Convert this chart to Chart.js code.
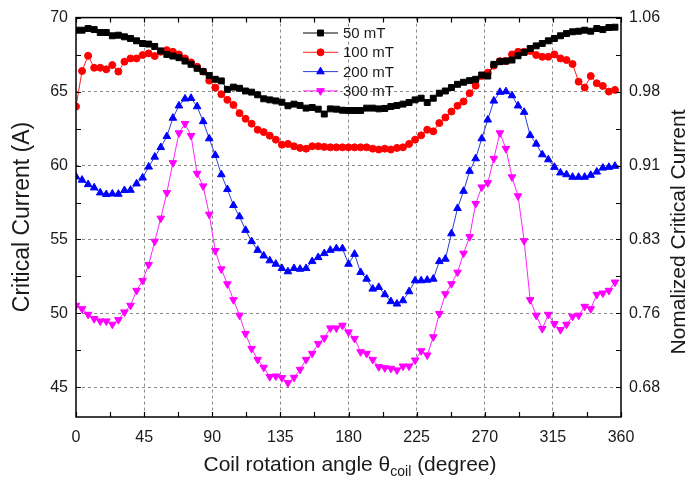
<!DOCTYPE html>
<html><head><meta charset="utf-8">
<script src="https://cdn.jsdelivr.net/npm/chart.js@4/dist/chart.umd.min.js"></script>
<style>html,body{margin:0;padding:0;background:#fff}</style>
</head><body>
<canvas id="c" width="688" height="490"></canvas>
<script>
const angles = [0,4,8,12,16,20,24,28,32,36,40,44,48,52,56,60,64,68,72,76,80,84,88,92,96,100,104,108,112,116,120,124,128,132,136,140,144,148,152,156,160,164,168,172,176,180,184,188,192,196,200,204,208,212,216,220,224,228,232,236,240,244,248,252,256,260,264,268,272,276,280,284,288,292,296,300,304,308,312,316,320,324,328,332,336,340,344,348,352,356];

const ic50 = [69.15,69.15,69.26,69.19,68.99,68.99,68.77,68.81,68.70,68.59,68.43,68.25,68.21,68.05,67.75,67.51,67.40,67.29,67.06,66.84,66.57,66.35,66.08,65.83,65.72,65.15,65.30,65.22,65.04,64.96,64.78,
64.51,64.44,64.37,64.28,64.04,64.15,64.06,63.88,63.92,63.81,63.48,63.83,63.81,63.74,63.72,63.72,63.72,63.88,63.88,63.83,63.86,63.99,64.06,64.15,64.26,64.44,64.55,64.26,64.55,64.89,
65.04,65.27,65.49,65.63,65.74,65.83,66.12,66.05,66.84,67.02,67.06,67.13,67.42,67.65,67.91,68.09,68.25,68.43,68.59,68.77,68.92,69.04,69.08,69.15,69.08,69.26,69.19,69.33,69.35];

const ic100 = [63.99,66.39,67.42,66.61,66.61,66.50,66.79,66.35,67.02,67.24,67.24,67.47,67.58,67.40,67.69,67.80,67.69,67.51,67.24,66.97,66.68,66.35,65.74,65.27,64.82,64.44,64.10,63.54,63.16,62.83,62.42,
62.26,62.02,61.75,61.41,61.46,61.30,61.19,61.14,61.30,61.30,61.26,61.23,61.23,61.23,61.23,61.23,61.23,61.23,61.14,61.08,61.14,61.08,61.19,61.23,61.46,61.75,62.04,62.42,62.31,62.87,
63.25,63.65,64.04,64.33,64.89,65.40,66.05,66.28,66.75,67.06,67.06,67.51,67.69,67.69,67.74,67.47,67.35,67.35,67.51,67.24,67.13,66.86,65.67,65.27,66.05,65.56,65.38,65.00,65.11];

const ic200 = [59.24,59.02,58.72,58.50,58.16,58.05,58.09,58.07,58.32,58.34,58.77,59.17,59.91,60.58,61.23,61.97,63.21,64.04,64.51,64.55,63.99,62.98,61.82,60.70,59.39,58.39,57.31,56.55,55.63,54.87,54.28,
53.90,53.57,53.34,53.05,52.83,53.05,53.00,53.05,53.52,53.79,54.06,54.28,54.39,54.39,53.34,54.01,52.78,52.33,51.66,51.77,51.28,50.81,50.65,50.87,51.48,52.22,52.22,52.26,52.33,53.52,
53.68,55.40,57.11,58.27,59.62,60.47,61.82,63.09,64.37,64.96,65.00,64.73,64.04,63.61,62.04,61.46,60.74,60.40,59.89,59.51,59.39,59.22,59.22,59.22,59.35,59.57,59.84,59.89,59.96];

const ic300 = [50.54,50.31,49.93,49.64,49.48,49.48,49.26,49.57,50.09,50.54,51.55,52.22,53.30,54.87,56.43,58.16,60.18,62.20,62.83,62.02,59.46,58.61,56.70,54.24,53.00,51.99,50.92,49.87,48.63,47.62,46.88,
46.35,45.72,45.76,45.65,45.31,45.67,46.21,46.88,47.29,47.96,48.34,49.01,49.01,49.19,48.74,48.30,47.40,47.29,46.88,46.39,46.32,46.28,46.17,46.43,46.43,46.84,47.47,47.18,48.41,49.98,
51.32,52.00,52.78,54.06,55.18,57.42,58.54,58.83,60.47,62.20,61.14,59.22,57.94,54.91,50.92,49.87,48.97,49.93,49.30,48.90,49.26,49.80,49.87,50.47,50.31,51.28,51.37,51.55,52.11];

const seriesNames = ['50 mT','100 mT','200 mT','300 mT'];
const xTicks = [0,45,90,135,180,225,270,315,360];
const xMinor = [22.5,67.5,112.5,157.5,202.5,247.5,292.5,337.5];
const yTicks = [45,50,55,60,65,70];
const yMinor = [47.5,52.5,57.5,62.5,67.5];
const normRef = 66;

const FONT = '"Liberation Sans", Arial, sans-serif';
const toXY = arr => arr.map((v,i)=>({x:angles[i], y:v}));

const styles = [
  {c:'#000000', line:'#000000', ps:'rect', r:4.2, rot:0},
  {c:'#ff0000', line:'#ff2020', ps:'circle', r:3.5, rot:0},
  {c:'#0000ff', line:'#2a3fd6', ps:'triangle', r:4.4, rot:0},
  {c:'#ff00ff', line:'#ff22ff', ps:'triangle', r:4.4, rot:180}
];
const allData = [ic50, ic100, ic200, ic300];

const datasets = allData.map((arr,k)=>({
  label: seriesNames[k],
  data: toXY(arr),
  borderColor: styles[k].line,
  backgroundColor: styles[k].c,
  borderWidth: 1,
  pointStyle: styles[k].ps,
  pointRadius: styles[k].r,
  pointRotation: styles[k].rot,
  pointBorderWidth: 1,
  pointBorderColor: styles[k].c,
  pointBackgroundColor: styles[k].c,
  tension: 0,
  yAxisID: 'y'
}));

const gridColor = (edgeVals) => (ctx) => edgeVals.includes(ctx.tick && ctx.tick.value) ? 'rgba(0,0,0,0)' : '#8a8a8a';

const decor = {
  id: 'decor',
  afterDraw(chart) {
    const {ctx, chartArea: a, scales} = chart;
    const xs = scales.x, ys = scales.y;
    ctx.save();
    ctx.strokeStyle = '#000';
    ctx.lineWidth = 1.5;
    ctx.strokeRect(a.left, a.top, a.right - a.left, a.bottom - a.top);
    ctx.lineWidth = 1.2;
    const L = 5;
    ctx.beginPath();
    xTicks.concat(xMinor).forEach(v => {
      const px = Math.round(xs.getPixelForValue(v)) + 0.5;
      ctx.moveTo(px, a.bottom); ctx.lineTo(px, a.bottom - L);
      ctx.moveTo(px, a.top); ctx.lineTo(px, a.top + L);
    });
    yTicks.concat(yMinor).forEach(v => {
      const py = Math.round(ys.getPixelForValue(v)) + 0.5;
      ctx.moveTo(a.left, py); ctx.lineTo(a.left + L, py);
      ctx.moveTo(a.right, py); ctx.lineTo(a.right - L, py);
    });
    ctx.stroke();

    // legend
    const lx0 = 303, lx1 = 338, tx = 343, ly0 = 33, dy = 19.3;
    ctx.font = '15px ' + FONT;
    ctx.textBaseline = 'middle';
    ctx.textAlign = 'left';
    chart.data.datasets.forEach((ds, k) => {
      const y = ly0 + k * dy;
      ctx.strokeStyle = ds.borderColor;
      ctx.lineWidth = 1;
      ctx.beginPath(); ctx.moveTo(lx0, y); ctx.lineTo(lx1, y); ctx.stroke();
      ctx.fillStyle = ds.backgroundColor;
      ctx.strokeStyle = ds.pointBorderColor;
      Chart.helpers.drawPoint(ctx, {pointStyle: ds.pointStyle, radius: ds.pointRadius, rotation: ds.pointRotation, borderWidth: 1}, (lx0 + lx1) / 2, y);
      ctx.fillStyle = '#1a1a1a';
      ctx.fillText(ds.label, tx, y + 1);
    });

    // axis titles
    ctx.fillStyle = '#1a1a1a';
    ctx.textAlign = 'center';
    ctx.textBaseline = 'middle';
    ctx.save();
    ctx.font = '23px ' + FONT;
    ctx.translate(23, 217);
    ctx.rotate(-Math.PI / 2);
    ctx.fillText('Critical Current (A)', 0, 0);
    ctx.restore();
    ctx.save();
    ctx.font = '21px ' + FONT;
    ctx.translate(679, 232);
    ctx.rotate(-Math.PI / 2);
    ctx.fillText('Nomalized Critical Current', 0, 0);
    ctx.restore();

    // x title with subscript
    const p1 = 'Coil rotation angle \u03B8', p2 = 'coil', p3 = ' (degree)';
    ctx.font = '21px ' + FONT;
    const w1 = ctx.measureText(p1).width, w3 = ctx.measureText(p3).width;
    ctx.font = '14px ' + FONT;
    const w2 = ctx.measureText(p2).width;
    const tot = w1 + w2 + w3;
    let x = 350 - tot / 2;
    const yb = 471;
    ctx.textAlign = 'left';
    ctx.textBaseline = 'alphabetic';
    ctx.font = '21px ' + FONT;
    ctx.fillText(p1, x, yb); x += w1;
    ctx.font = '14px ' + FONT;
    ctx.fillText(p2, x, yb + 5); x += w2;
    ctx.font = '21px ' + FONT;
    ctx.fillText(p3, x, yb);
    ctx.restore();
  }
};

new Chart(document.getElementById('c'), {
  type: 'line',
  data: { datasets },
  options: {
    responsive: false,
    animation: false,
    devicePixelRatio: 1,
    layout: { padding: { top: 16, left: 0, right: 0, bottom: 0 } },
    plugins: { legend: { display: false }, tooltip: { enabled: false }, title: { display: false } },
    scales: {
      x: {
        type: 'linear', position: 'bottom', min: 0, max: 360,
        afterBuildTicks: s => { s.ticks = xTicks.map(v => ({value: v})); },
        afterFit: s => { s.height = 73; },
        ticks: { font: { size: 16, family: FONT }, color: '#1a1a1a', padding: 11, maxRotation: 0, autoSkip: false },
        grid: { drawTicks: false, color: gridColor([0, 360]), lineWidth: 1 },
        border: { display: false, dash: [3, 3] }
      },
      y: {
        type: 'linear', position: 'left', min: 43, max: 70,
        afterBuildTicks: s => { s.ticks = yTicks.map(v => ({value: v})); },
        afterFit: s => { s.width = 76; },
        ticks: { font: { size: 16, family: FONT }, color: '#1a1a1a', padding: 8 },
        grid: { drawTicks: false, color: gridColor([70]), lineWidth: 1 },
        border: { display: false, dash: [3, 3] }
      },
      y2: {
        type: 'linear', position: 'right', min: 43, max: 70,
        afterBuildTicks: s => { s.ticks = yTicks.map(v => ({value: v})); },
        afterFit: s => { s.width = 67; },
        ticks: { font: { size: 16, family: FONT }, color: '#1a1a1a', padding: 8, callback: v => (v / normRef).toFixed(2) },
        grid: { display: false, drawTicks: false },
        border: { display: false }
      }
    }
  },
  plugins: [decor]
});
</script>
</body></html>
